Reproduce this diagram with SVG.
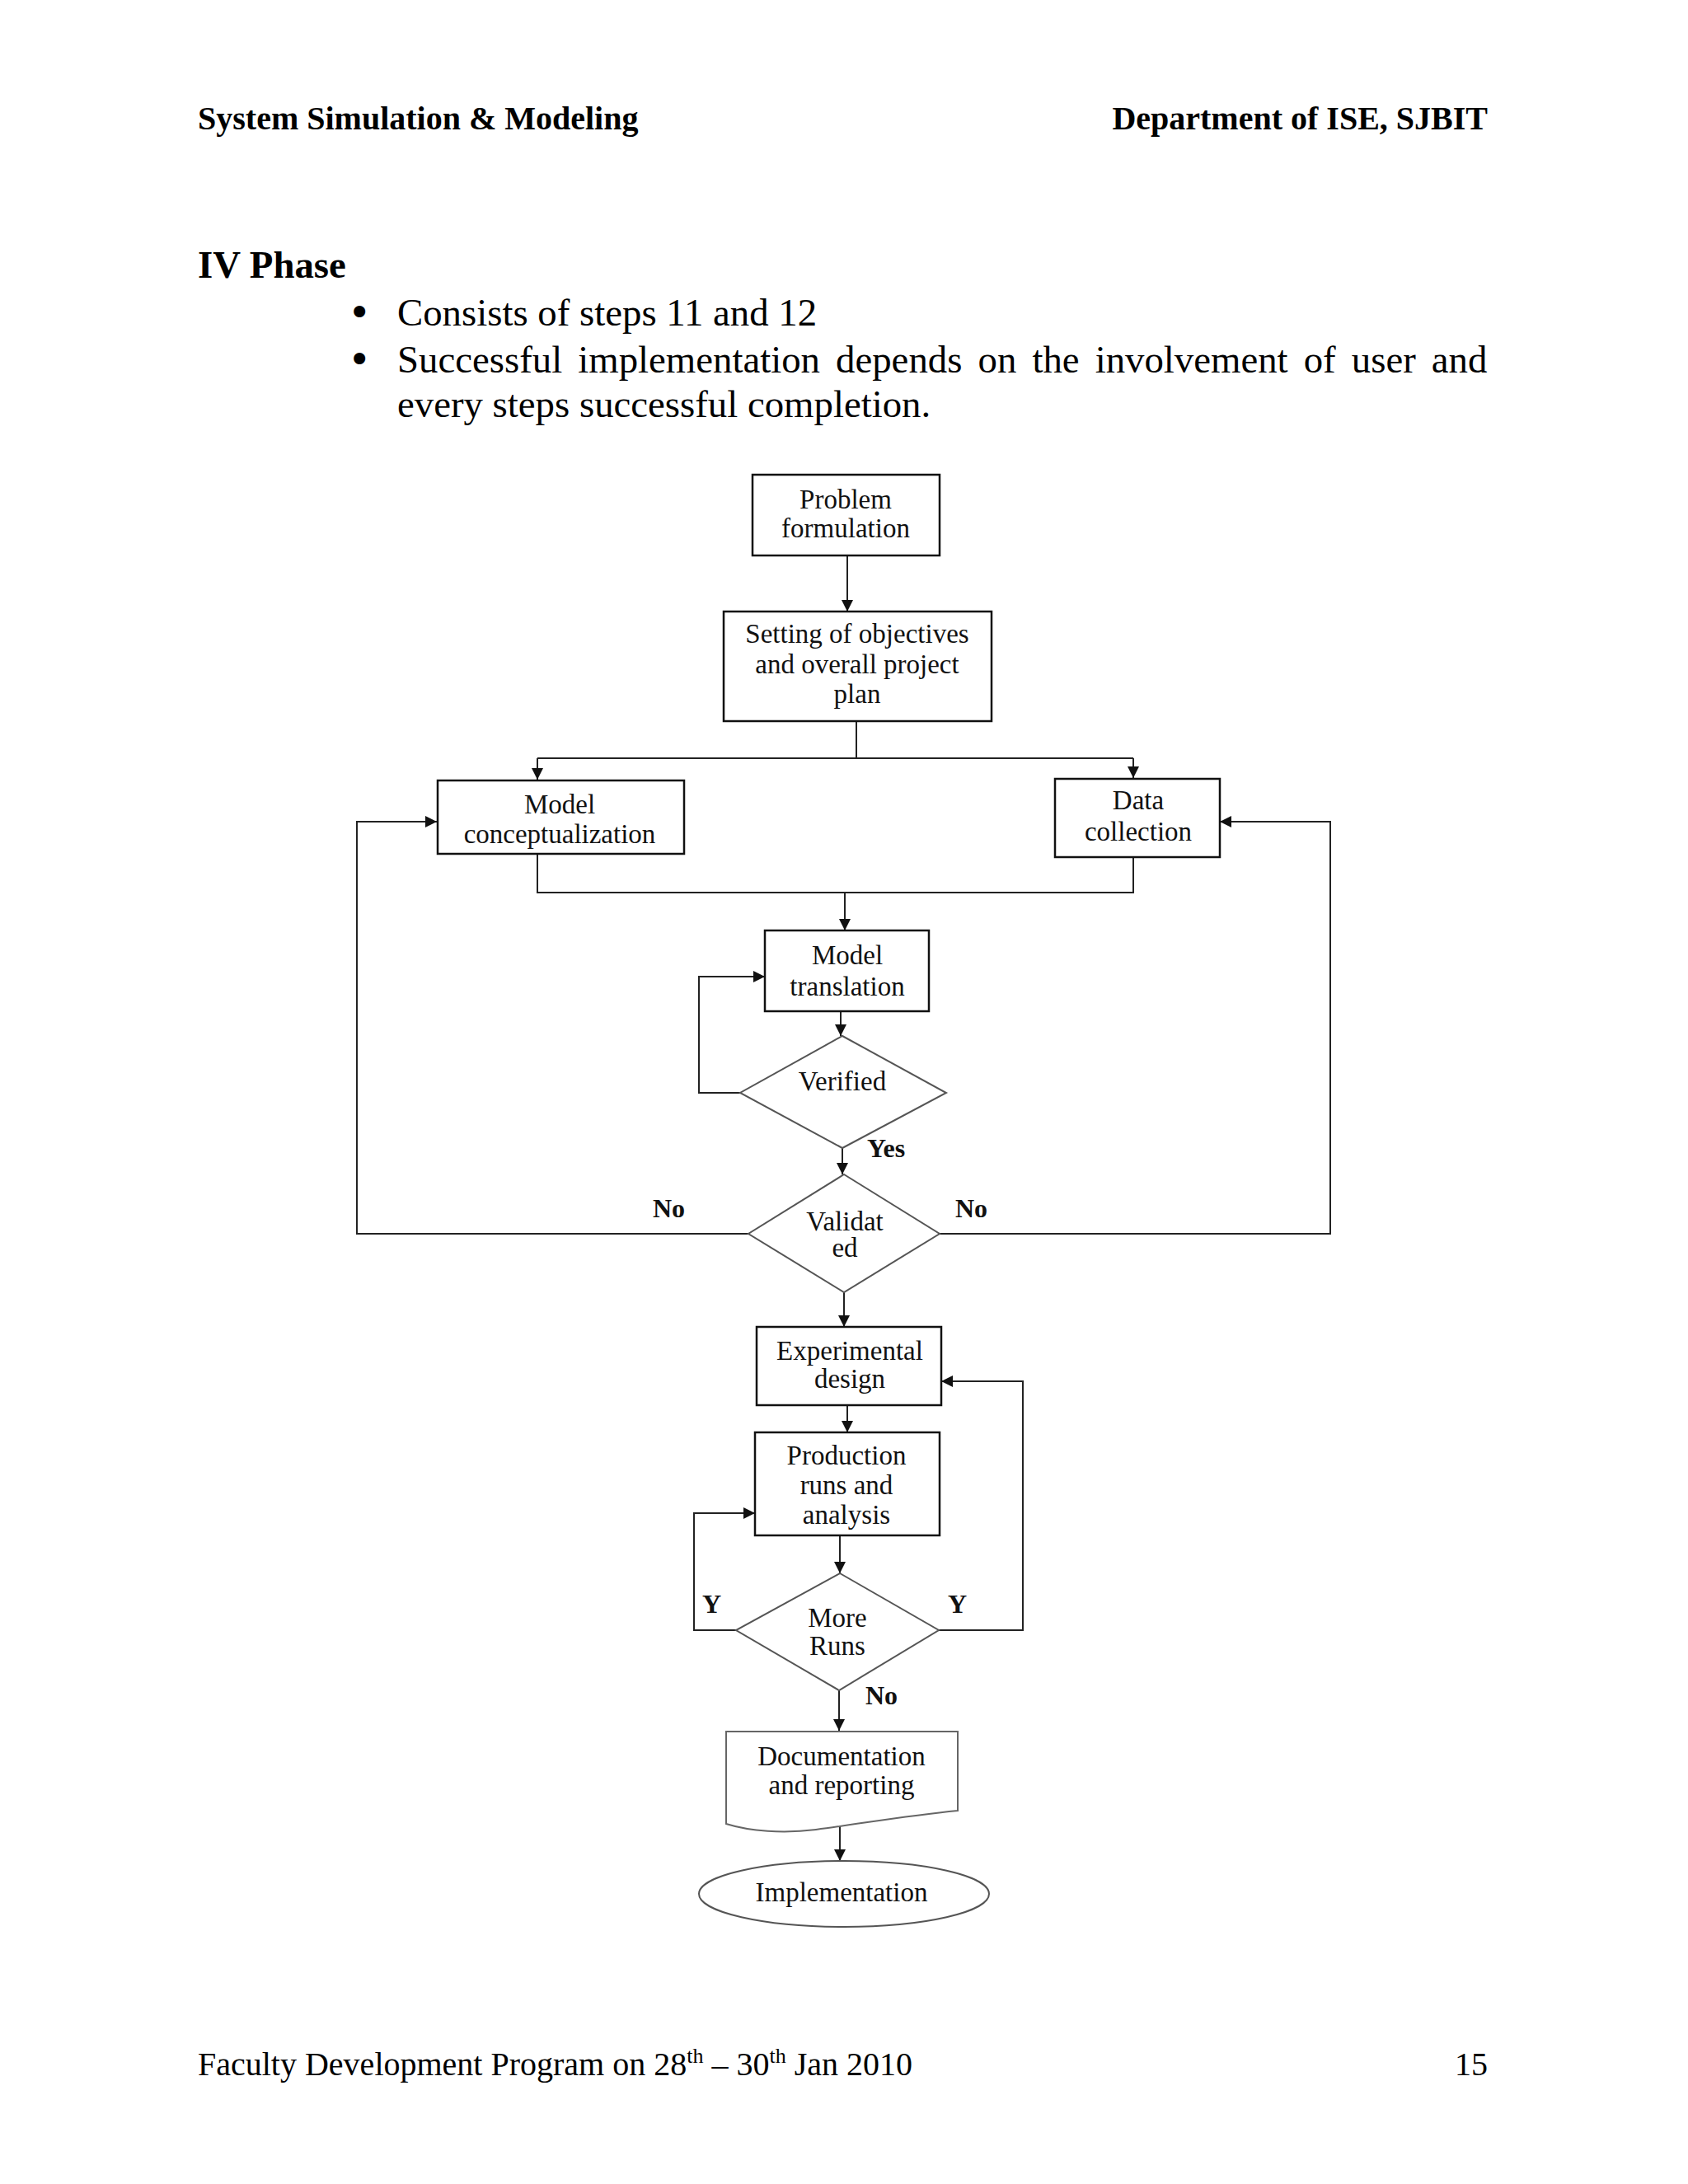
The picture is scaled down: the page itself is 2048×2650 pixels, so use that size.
<svg xmlns="http://www.w3.org/2000/svg" width="2048" height="2650" viewBox="0 0 2048 2650">
<style>
.page{font-family:"Liberation Serif","Times New Roman",serif;fill:#000}
.hb{font-size:40px;font-weight:bold}
.h2{font-size:46.8px;font-weight:bold}
.body{font-size:46.8px}
.bul{font-size:48px;font-family:"DejaVu Sans",sans-serif}
.foot{font-size:40px}
.lbl{font-family:"Liberation Serif","Times New Roman",serif;font-size:33px;fill:#111;text-anchor:middle}
.edge{font-family:"Liberation Serif","Times New Roman",serif;font-size:32px;font-weight:bold;fill:#111}
.box{fill:#fff;stroke:#111;stroke-width:2.5}
.dia{fill:#fff;stroke:#555;stroke-width:2}
.conn{fill:none;stroke:#222;stroke-width:2}
</style>
<defs>
<marker id="arr" markerUnits="userSpaceOnUse" markerWidth="15" markerHeight="14" refX="14" refY="7" orient="auto">
<path d="M0,0 L14,7 L0,14 z" fill="#111"/>
</marker>
</defs>
<rect width="2048" height="2650" fill="#fff"/>
<g id="page-text" class="page">
<text class="hb" x="240" y="157">System Simulation &amp; Modeling</text>
<text class="hb" x="1805" y="157" text-anchor="end">Department of ISE, SJBIT</text>
<text class="h2" x="240" y="337">IV Phase</text>
<text class="bul" x="422" y="396">•</text>
<text class="body" x="482" y="395">Consists of steps 11 and 12</text>
<text class="bul" x="422" y="453">•</text>
<text class="body" x="482" y="452" word-spacing="7.4">Successful implementation depends on the involvement of user and</text>
<text class="body" x="482" y="506">every steps successful completion.</text>
<text class="foot" x="240" y="2518">Faculty Development Program on 28<tspan font-size="26" dy="-15">th</tspan><tspan dy="15"> – 30</tspan><tspan font-size="26" dy="-15">th</tspan><tspan dy="15"> Jan 2010</tspan></text>
<text class="foot" x="1805" y="2518" text-anchor="end">15</text>
</g>
<g id="connectors">
<path class="conn" d="M1028,674 V742" marker-end="url(#arr)"/>
<path class="conn" d="M1039,875 V920"/>
<path class="conn" stroke="#777" d="M652,920 H1375"/>
<path class="conn" d="M652,920 V946" marker-end="url(#arr)"/>
<path class="conn" d="M1375,920 V944" marker-end="url(#arr)"/>
<path class="conn" d="M652,1036 V1083 H1375 V1040"/>
<path class="conn" d="M1025,1083 V1129" marker-end="url(#arr)"/>
<path class="conn" d="M1020,1227 V1257" marker-end="url(#arr)"/>
<path class="conn" d="M898,1326 H848 V1185 H928" marker-end="url(#arr)"/>
<path class="conn" d="M1022,1393 V1425" marker-end="url(#arr)"/>
<path class="conn" d="M908,1497 H433 V997 H530" marker-end="url(#arr)"/>
<path class="conn" d="M1140,1497 H1614 V997 H1480" marker-end="url(#arr)"/>
<path class="conn" d="M1024,1568 V1610" marker-end="url(#arr)"/>
<path class="conn" d="M1028,1705 V1738" marker-end="url(#arr)"/>
<path class="conn" d="M1019,1863 V1909" marker-end="url(#arr)"/>
<path class="conn" d="M893,1978 H842 V1836 H916" marker-end="url(#arr)"/>
<path class="conn" d="M1139,1978 H1241 V1676 H1142" marker-end="url(#arr)"/>
<path class="conn" d="M1018,2051 V2100" marker-end="url(#arr)"/>
<path class="conn" d="M1019,2215 V2258" marker-end="url(#arr)"/>
<text class="edge" x="1052" y="1404">Yes</text>
<text class="edge" x="792" y="1477">No</text>
<text class="edge" x="1159" y="1477">No</text>
<text class="edge" x="852" y="1957">Y</text>
<text class="edge" x="1150" y="1957">Y</text>
<text class="edge" x="1050" y="2068">No</text>
</g>
<g id="problem">
<rect class="box" x="913" y="576" width="227" height="98"/>
<text class="lbl" x="1026" y="617">Problem</text>
<text class="lbl" x="1026" y="652">formulation</text>
</g>
<g id="objectives">
<rect class="box" x="878" y="742" width="325" height="133"/>
<text class="lbl" x="1040" y="780">Setting of objectives</text>
<text class="lbl" x="1040" y="817">and overall project</text>
<text class="lbl" x="1040" y="853">plan</text>
</g>
<g id="conceptualization">
<rect class="box" x="531" y="947" width="299" height="89"/>
<text class="lbl" x="679" y="987">Model</text>
<text class="lbl" x="679" y="1023">conceptualization</text>
</g>
<g id="data">
<rect class="box" x="1280" y="945" width="200" height="95"/>
<text class="lbl" x="1381" y="982">Data</text>
<text class="lbl" x="1381" y="1020">collection</text>
</g>
<g id="translation">
<rect class="box" x="928" y="1129" width="199" height="98"/>
<text class="lbl" x="1028" y="1170">Model</text>
<text class="lbl" x="1028" y="1208">translation</text>
</g>
<g id="verified">
<polygon class="dia" points="1022,1257 1148,1326 1022,1393 898,1326"/>
<text class="lbl" x="1022" y="1323">Verified</text>
</g>
<g id="validated">
<polygon class="dia" points="1024,1425 1140,1497 1024,1568 908,1497"/>
<text class="lbl" x="1025" y="1493">Validat</text>
<text class="lbl" x="1025" y="1525">ed</text>
</g>
<g id="experimental">
<rect class="box" x="918" y="1610" width="224" height="95"/>
<text class="lbl" x="1031" y="1650">Experimental</text>
<text class="lbl" x="1031" y="1684">design</text>
</g>
<g id="production">
<rect class="box" x="916" y="1738" width="224" height="125"/>
<text class="lbl" x="1027" y="1777">Production</text>
<text class="lbl" x="1027" y="1813">runs and</text>
<text class="lbl" x="1027" y="1849">analysis</text>
</g>
<g id="more-runs">
<polygon class="dia" points="1019,1909 1139,1978 1018,2051 893,1978"/>
<text class="lbl" x="1016" y="1974">More</text>
<text class="lbl" x="1016" y="2008">Runs</text>
</g>
<g id="documentation">
<path d="M881,2101 H1162 V2197 C1100,2203 1050,2212 990,2220 C950,2225 910,2222 881,2213 Z" fill="#fff" stroke="#666" stroke-width="2"/>
<text class="lbl" x="1021" y="2142">Documentation</text>
<text class="lbl" x="1021" y="2177">and reporting</text>
</g>
<g id="implementation">
<ellipse cx="1024" cy="2298" rx="176" ry="40" fill="#fff" stroke="#555" stroke-width="2"/>
<text class="lbl" x="1021" y="2307">Implementation</text>
</g>
</svg>
